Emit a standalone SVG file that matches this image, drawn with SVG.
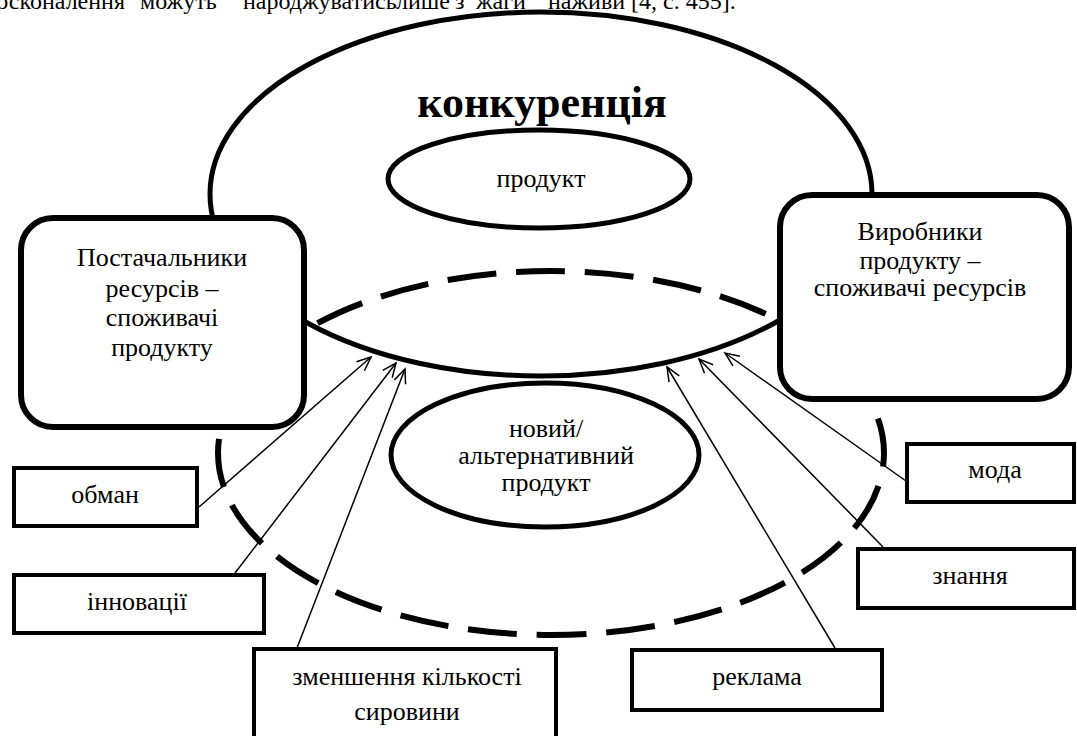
<svg xmlns="http://www.w3.org/2000/svg" width="1077" height="736" viewBox="0 0 1077 736">
<defs>
<style>
text{font-family:"Liberation Serif","Times New Roman",serif;fill:#000;}
.t{font-size:26px;text-anchor:middle;}
.big{font-size:44px;font-weight:bold;text-anchor:middle;}
.top{font-size:24px;}
.solid{fill:none;stroke:#000;stroke-width:5;}
.oval{fill:#fff;stroke:#000;stroke-width:5;}
.dash{fill:none;stroke:#000;stroke-width:6;stroke-dasharray:49 19.8;stroke-dashoffset:34.5;}
.rbox{fill:#fff;stroke:#000;stroke-width:6;}
.box{fill:#fff;stroke:#000;stroke-width:4;}
.con{fill:none;stroke:#000;stroke-width:1.5;marker-end:url(#arr);}
</style>
<marker id="arr" viewBox="0 0 14 12" refX="14" refY="6" markerWidth="14" markerHeight="12" markerUnits="userSpaceOnUse" orient="auto" overflow="visible">
<path d="M0,0 L14,6 L0,12" fill="none" stroke="#000" stroke-width="1.5"/>
</marker>
</defs>
<rect width="1077" height="736" fill="#fff"/>
<text class="top" y="9"><tspan x="125" text-anchor="end">вдосконалення</tspan><tspan x="140">можуть</tspan><tspan x="243">народжуватись</tspan><tspan x="396">лише</tspan><tspan x="455">з</tspan><tspan x="476">жаги</tspan><tspan x="548">наживи [4, с. 455].</tspan></text>

<g id="competition">
<ellipse class="solid" cx="541" cy="194" rx="331" ry="182"/>
<text class="big" x="542" y="117">конкуренція</text>
</g>
<g id="alternative-market">
<path class="dash" d="M551,635 A333,182 0 0 1 551,271 A333,182 0 0 1 551,635 Z"/>
</g>
<g id="product">
<ellipse class="oval" cx="539" cy="179" rx="151" ry="49"/>
<text class="t" x="541" y="187">продукт</text>
</g>
<g id="new-product">
<ellipse class="oval" cx="545" cy="455" rx="154" ry="72"/>
<text class="t" x="546" y="437">новий/</text>
<text class="t" x="546" y="464">альтернативний</text>
<text class="t" x="546" y="491">продукт</text>
</g>

<g id="connectors">
<line class="con" x1="199" y1="507" x2="371" y2="357"/>
<line class="con" x1="235" y1="573" x2="396" y2="363"/>
<line class="con" x1="297" y1="648" x2="405" y2="369"/>
<line class="con" x1="835" y1="648" x2="667" y2="367"/>
<line class="con" x1="883" y1="547" x2="699" y2="359"/>
<line class="con" x1="906" y1="481" x2="725" y2="353"/>
</g>

<g id="suppliers">
<rect class="rbox" x="21" y="218" width="283" height="209" rx="32"/>
<text class="t" x="162" y="266">Постачальники</text>
<text class="t" x="162" y="297">ресурсів –</text>
<text class="t" x="162" y="326">споживачі</text>
<text class="t" x="162" y="356">продукту</text>
</g>
<g id="producers">
<rect class="rbox" x="780" y="195" width="289" height="204" rx="32"/>
<text class="t" x="920" y="240">Виробники</text>
<text class="t" x="920" y="269">продукту –</text>
<text class="t" x="920" y="296">споживачі ресурсів</text>
</g>
<g id="deception">
<rect class="box" x="14" y="468" width="183" height="58"/>
<text class="t" x="105" y="503">обман</text>
</g>
<g id="innovations">
<rect class="box" x="14" y="575" width="250" height="58"/>
<text class="t" x="137" y="610">інновації</text>
</g>
<g id="raw-reduction">
<rect class="box" x="254" y="649" width="302" height="100"/>
<text class="t" x="407" y="685">зменшення кількості</text>
<text class="t" x="407" y="720">сировини</text>
</g>
<g id="advertising">
<rect class="box" x="632" y="650" width="250" height="60"/>
<text class="t" x="757" y="685">реклама</text>
</g>
<g id="knowledge">
<rect class="box" x="858" y="549" width="216" height="59"/>
<text class="t" x="970" y="584">знання</text>
</g>
<g id="fashion">
<rect class="box" x="907" y="444" width="167" height="58"/>
<text class="t" x="995" y="478">мода</text>
</g>
</svg>
